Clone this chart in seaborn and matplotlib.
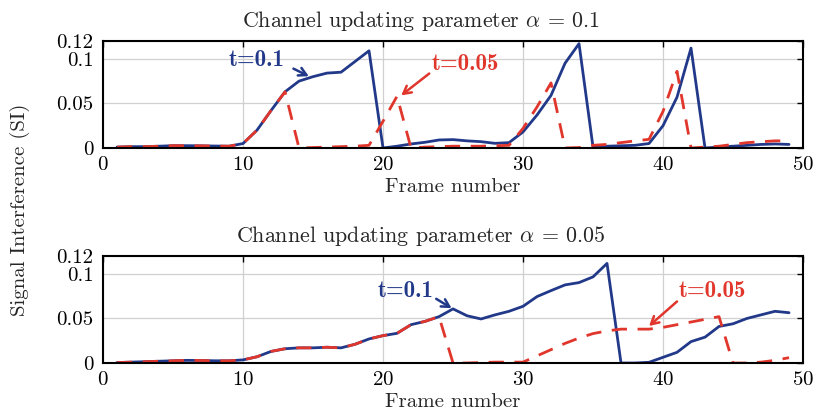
import matplotlib
matplotlib.use("Agg")
import matplotlib.pyplot as plt
import seaborn as sns
import pandas as pd

# ---------------- data ----------------
frames = list(range(1, 50))

top_t01 = [0.001, 0.0015, 0.0015, 0.002, 0.0026, 0.0026, 0.0024, 0.0022, 0.002, 0.005,
           0.020, 0.042, 0.063, 0.075, 0.080, 0.084, 0.085, 0.097, 0.109, 0.0,
           0.002, 0.0045, 0.0064, 0.009, 0.0094, 0.008, 0.0071, 0.0052, 0.006, 0.018,
           0.037, 0.059, 0.095, 0.117, 0.001, 0.002, 0.0025, 0.003, 0.005, 0.025,
           0.057, 0.112, 0.0, 0.001, 0.002, 0.003, 0.004, 0.0045, 0.004]

top_t005 = [0.001, 0.0015, 0.0015, 0.002, 0.0026, 0.0026, 0.0024, 0.0022, 0.002, 0.005,
            0.020, 0.042, 0.063, 0.0, 0.0005, 0.001, 0.0015, 0.002, 0.003, 0.030,
            0.058, 0.0, 0.001, 0.0015, 0.002, 0.002, 0.002, 0.0025, 0.003, 0.022,
            0.046, 0.073, 0.0, 0.0005, 0.003, 0.004, 0.006, 0.008, 0.0097, 0.041,
            0.086, 0.0, 0.001, 0.002, 0.004, 0.006, 0.007, 0.008, 0.008]

bot_t01 = [0.0005, 0.001, 0.0015, 0.002, 0.0025, 0.003, 0.0028, 0.0025, 0.0025, 0.0035,
           0.007, 0.013, 0.016, 0.017, 0.017, 0.0177, 0.017, 0.021, 0.027, 0.0307,
           0.0333, 0.043, 0.0467, 0.052, 0.0607, 0.053, 0.0494, 0.054, 0.058, 0.0636,
           0.0745, 0.0812, 0.0876, 0.0902, 0.0966, 0.1117, 0.0, 0.0, 0.0008, 0.0064,
           0.012, 0.024, 0.029, 0.041, 0.044, 0.050, 0.054, 0.058, 0.0564]

bot_t005 = [0.0005, 0.001, 0.0015, 0.002, 0.0025, 0.003, 0.0028, 0.0025, 0.0025, 0.0035,
            0.007, 0.013, 0.016, 0.017, 0.017, 0.0177, 0.017, 0.021, 0.027, 0.0307,
            0.0333, 0.043, 0.0467, 0.052, 0.0, 0.0, 0.0005, 0.001, 0.001, 0.001,
            0.008, 0.015, 0.022, 0.028, 0.033, 0.036, 0.038, 0.038, 0.038, 0.040,
            0.043, 0.046, 0.049, 0.052, 0.0, 0.0, 0.001, 0.003, 0.006]

series_names = ["t=0.1", "t=0.05"]
titles = [r"Channel updating parameter $\alpha$ = 0.1",
          r"Channel updating parameter $\alpha$ = 0.05"]
xticks = [0, 10, 20, 30, 40, 50]
yticks = [0, 0.05, 0.1, 0.12]
ytick_labels = ["0", "0.05", "0.1", "0.12"]

BLUE = "#22398a"
RED = "#e0362c"
FS = 15

# ---------------- style ----------------
sns.set_style("white")
plt.rcParams["font.family"] = ["cmr10", "DejaVu Serif"]
plt.rcParams["mathtext.fontset"] = "cm"
plt.rcParams["axes.formatter.use_mathtext"] = True

fig = plt.figure(figsize=(8.15, 4.12), dpi=100)
ax_top = fig.add_axes([0.1264, 0.6408, 0.8589, 0.2597])
ax_bot = fig.add_axes([0.1264, 0.1189, 0.8589, 0.2597])

panels = [
    (ax_top, top_t01, top_t005,
     dict(txt=(11.0, 0.0985), start=(13.6, 0.089), tip=(14.7, 0.0805)),
     dict(txt=(25.9, 0.0945), start=(23.3, 0.0835), tip=(21.3, 0.059))),
    (ax_bot, bot_t01, bot_t005,
     dict(txt=(21.6, 0.0812), start=(23.8, 0.072), tip=(24.9, 0.0615)),
     dict(txt=(43.5, 0.081), start=(41.0, 0.069), tip=(39.0, 0.0415))),
]

for i, (ax, s1, s2, a1, a2) in enumerate(panels):
    df = pd.DataFrame({
        "frame": frames * 2,
        "si": s1 + s2,
        "series": [series_names[0]] * len(frames) + [series_names[1]] * len(frames),
    })
    sns.lineplot(data=df, x="frame", y="si", hue="series", style="series",
                 hue_order=series_names, style_order=series_names,
                 palette={series_names[0]: BLUE, series_names[1]: RED},
                 dashes={series_names[0]: "", series_names[1]: (5.5, 3.8)},
                 linewidth=2.0, legend=False, ax=ax)

    ax.set_xlim(0, 50)
    ax.set_ylim(0, 0.12)
    ax.set_xticks(xticks)
    ax.set_yticks(yticks)
    ax.set_yticklabels(ytick_labels)
    ax.get_yticklabels()[-1].set_fontsize(11)
    ax.tick_params(axis="both", direction="in", length=4, width=1.0,
                   top=True, right=True, labelsize=FS, pad=5.5, colors="black")
    ax.tick_params(axis="y", pad=7)
    ax.grid(True, color="#d0d0d0", linewidth=0.9)
    ax.set_axisbelow(True)
    for sp in ax.spines.values():
        sp.set_visible(True)
        sp.set_color("black")
        sp.set_linewidth(1.5)
    ax.set_xlabel("Frame number", fontsize=FS, labelpad=3.5)
    ax.set_ylabel("")
    ax.set_title(titles[i], fontsize=15.8, pad=10, x=0.454)

    for name, col, a in ((series_names[0], BLUE, a1), (series_names[1], RED, a2)):
        ax.text(a["txt"][0], a["txt"][1], name, color=col, fontsize=16.5,
                family=["cmb10", "DejaVu Serif"], fontweight="bold",
                ha="center", va="center")
        ax.annotate("", xy=a["tip"], xytext=a["start"],
                    arrowprops=dict(arrowstyle="->,head_length=0.55,head_width=0.3",
                                    color=col, lw=1.8, shrinkA=0, shrinkB=0))

fig.text(0.024, 0.49, "Signal Interference (SI)", rotation=90,
         ha="center", va="center", fontsize=FS)

fig.savefig("out.png", dpi=100)
